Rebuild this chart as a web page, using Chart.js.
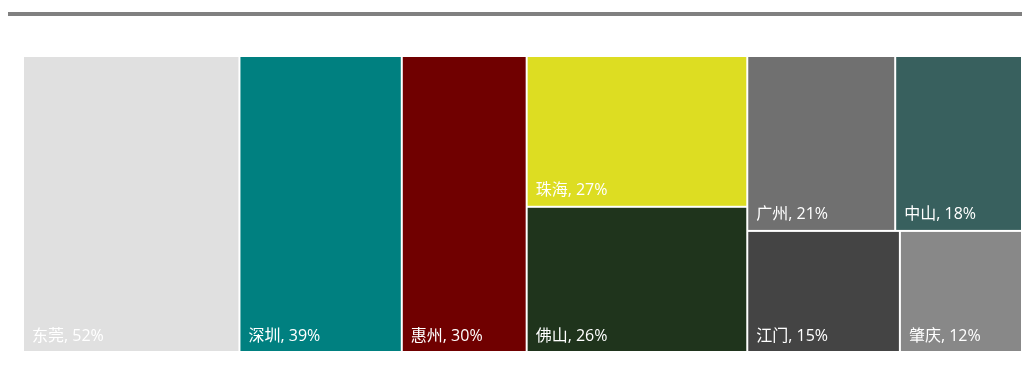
<!DOCTYPE html>
<html>
<head>
<meta charset="utf-8">
<script src="https://cdn.jsdelivr.net/npm/chart.js@4.4.1/dist/chart.umd.min.js"></script>
<style>
  html, body { margin: 0; padding: 0; background: #ffffff; }
  #wrap { position: relative; width: 1022px; height: 383px; }
  #topline { position: absolute; left: 8px; top: 12px; width: 1014px; height: 4px; background: #808080; }
  canvas { position: absolute; left: 0; top: 0; }
</style>
</head>
<body>
<div id="wrap">
  <div id="topline"></div>
  <canvas id="c" width="1022" height="383"></canvas>
</div>
<script>
// ---- data ----
const cities = ['东莞', '深圳', '惠州', '珠海', '佛山', '广州', '中山', '江门', '肇庆'];
const shares = [52, 39, 30, 27, 26, 21, 18, 15, 12];
const colors = ['#e0e0e0', '#008080', '#700000', '#dddd22', '#1f341c', '#707070', '#38605e', '#444444', '#888888'];
// slice-and-dice structure (indices into the arrays above); 'h' = side by side, 'v' = stacked
const layoutTree = ['h', 0, 1, 2, ['v', 3, 4], ['v', ['h', 5, 6], ['h', 7, 8]]];

function nodeValue(n) {
  if (typeof n === 'number') return shares[n];
  return n.slice(1).reduce((s, c) => s + nodeValue(c), 0);
}
function layout(n, x0, y0, x1, y1, out) {
  if (typeof n === 'number') { out.push({ i: n, x0, y0, x1, y1 }); return; }
  const dir = n[0], kids = n.slice(1), total = nodeValue(n);
  let acc = 0;
  kids.forEach(k => {
    const v = nodeValue(k);
    const a = acc / total, b = (acc + v) / total;
    if (dir === 'h') layout(k, x0 + (x1 - x0) * a, y0, x0 + (x1 - x0) * b, y1, out);
    else layout(k, x0, y0 + (y1 - y0) * a, x1, y0 + (y1 - y0) * b, out);
    acc += v;
  });
}

const treemapPlugin = {
  id: 'treemapDraw',
  afterDatasetsDraw(chart) {
    const xs = chart.scales.x, ys = chart.scales.y, ctx = chart.ctx;
    const rects = [];
    layout(layoutTree, 0, 1, 1, 0, rects);
    ctx.save();
    rects.forEach(r => {
      const px0 = xs.getPixelForValue(r.x0), px1 = xs.getPixelForValue(r.x1);
      const py0 = ys.getPixelForValue(r.y0), py1 = ys.getPixelForValue(r.y1);
      const l = Math.min(px0, px1) + 1, t = Math.min(py0, py1) + 1;
      const w = Math.abs(px1 - px0) - 2, h = Math.abs(py1 - py0) - 2;
      ctx.fillStyle = colors[r.i];
      ctx.fillRect(l, t, w, h);
      ctx.fillStyle = '#ffffff';
      ctx.font = '16px "Open Sans", "Noto Sans CJK SC", sans-serif';
      ctx.textBaseline = 'middle';
      ctx.textAlign = 'left';
      ctx.fillText(cities[r.i] + ', ' + shares[r.i] + '%', l + 8, t + h - 15);
    });
    ctx.restore();
  }
};

new Chart(document.getElementById('c'), {
  type: 'scatter',
  data: { datasets: [{ label: '占比', data: [], pointRadius: 0 }] },
  options: {
    responsive: false,
    animation: false,
    layout: { padding: { left: 23, right: 0, top: 56, bottom: 31 } },
    scales: {
      x: { type: 'linear', min: 0, max: 1, display: false },
      y: { type: 'linear', min: 0, max: 1, display: false }
    },
    plugins: { legend: { display: false }, tooltip: { enabled: false } }
  },
  plugins: [treemapPlugin]
});
</script>
</body>
</html>
